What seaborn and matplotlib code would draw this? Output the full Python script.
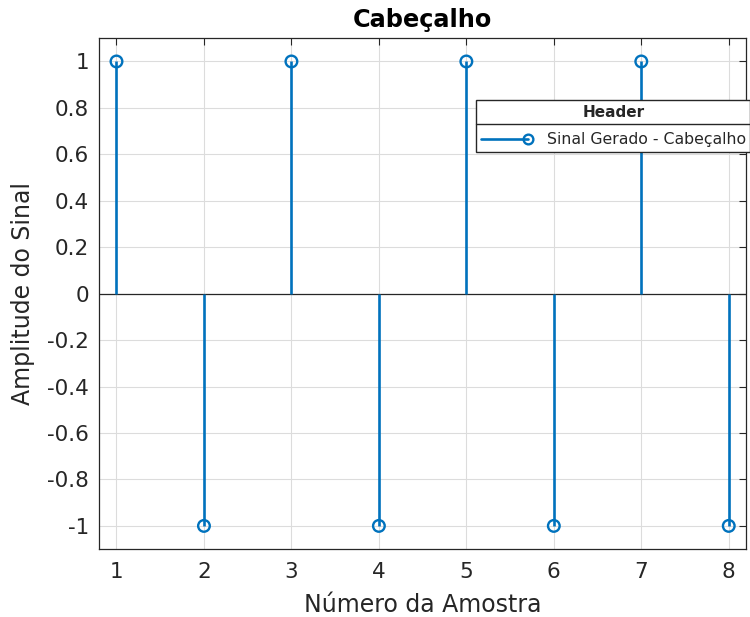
import matplotlib
matplotlib.use("Agg")
import matplotlib.pyplot as plt
import seaborn as sns
import pandas as pd
from matplotlib.lines import Line2D
from matplotlib.legend_handler import HandlerBase

# Header signal samples
samples = [1, 2, 3, 4, 5, 6, 7, 8]
amplitude = [1, -1, 1, -1, 1, -1, 1, -1]
x_ticks = [1, 2, 3, 4, 5, 6, 7, 8]
y_ticks = [-1, -0.8, -0.6, -0.4, -0.2, 0, 0.2, 0.4, 0.6, 0.8, 1]

BLUE = "#0072BD"
INK = "#262626"

sns.set_theme(style="white")
plt.rcParams["font.family"] = ["DejaVu Sans"]

df = pd.DataFrame({"n": samples, "a": amplitude})

fig = plt.figure(figsize=(7.5, 6.17), dpi=100)
ax = fig.add_axes([0.132, 0.110, 0.863, 0.828])

ax.set_xlim(0.8, 8.2)
ax.set_ylim(-1.1, 1.1)
ax.set_xticks(x_ticks)
ax.set_yticks(y_ticks)
ax.set_xticklabels([str(v) for v in x_ticks])
ax.set_yticklabels(["%g" % v for v in y_ticks])
ax.grid(True, color="#dcdcdc", linewidth=0.8, zorder=0)
ax.set_axisbelow(True)

# stems and baseline
ax.vlines(df["n"], 0, df["a"], color=BLUE, linewidth=1.9, zorder=3)
ax.axhline(0, color=INK, linewidth=0.9, zorder=2)
sns.scatterplot(data=df, x="n", y="a", ax=ax, marker="o", s=70,
                facecolors="none", edgecolor=BLUE, linewidth=1.7,
                zorder=4, legend=False)

for s in ax.spines.values():
    s.set_color(INK)
    s.set_linewidth(0.9)
ax.tick_params(direction="in", length=5, width=0.8, color=INK,
               top=True, right=True, labelsize=15.5, labelcolor=INK, pad=7)
ax.tick_params(axis="x", pad=9)
ax.set_xlabel("Número da Amostra", fontsize=17, color=INK, labelpad=8)
ax.set_ylabel("Amplitude do Sinal", fontsize=17, color=INK, labelpad=9)
ax.set_title("Cabeçalho", fontsize=17.3, fontweight="bold", color="black", pad=8)


class StemHandler(HandlerBase):
    def create_artists(self, legend, orig_handle, xdescent, ydescent,
                       width, height, fontsize, trans):
        y = height / 2 - ydescent
        line = Line2D([-xdescent, width - xdescent], [y, y], color=BLUE,
                      linewidth=1.9, transform=trans)
        mk = Line2D([width - xdescent], [y], marker="o", markersize=7,
                    markerfacecolor="none", markeredgecolor=BLUE,
                    markeredgewidth=1.7, linestyle="none", transform=trans)
        return [line, mk]


handle = Line2D([], [], color=BLUE)
leg = fig.legend([handle], ["Sinal Gerado - Cabeçalho"],
                 handler_map={Line2D: StemHandler()},
                 loc="upper left", bbox_to_anchor=(476 / 750, 1 - 100 / 617),
                 borderaxespad=0, fontsize=11.3, title="Header",
                 title_fontproperties={"weight": "bold", "size": 11},
                 frameon=True, fancybox=False, edgecolor=INK, framealpha=1,
                 handlelength=3.0, handletextpad=1.2, borderpad=0.3,
                 labelspacing=0.3)
leg.get_frame().set_linewidth(1.0)
leg._legend_box.sep = 9

# separator line between legend title and entry
fig.canvas.draw()
bb = leg.get_window_extent()
tb = leg.get_title().get_window_extent()
ysep = (tb.y0 - 4) / fig.bbox.height
fig.add_artist(Line2D([bb.x0 / fig.bbox.width, bb.x1 / fig.bbox.width],
                      [ysep, ysep], color=INK, linewidth=1.0,
                      transform=fig.transFigure, zorder=10))

fig.savefig("out.png", dpi=100)
